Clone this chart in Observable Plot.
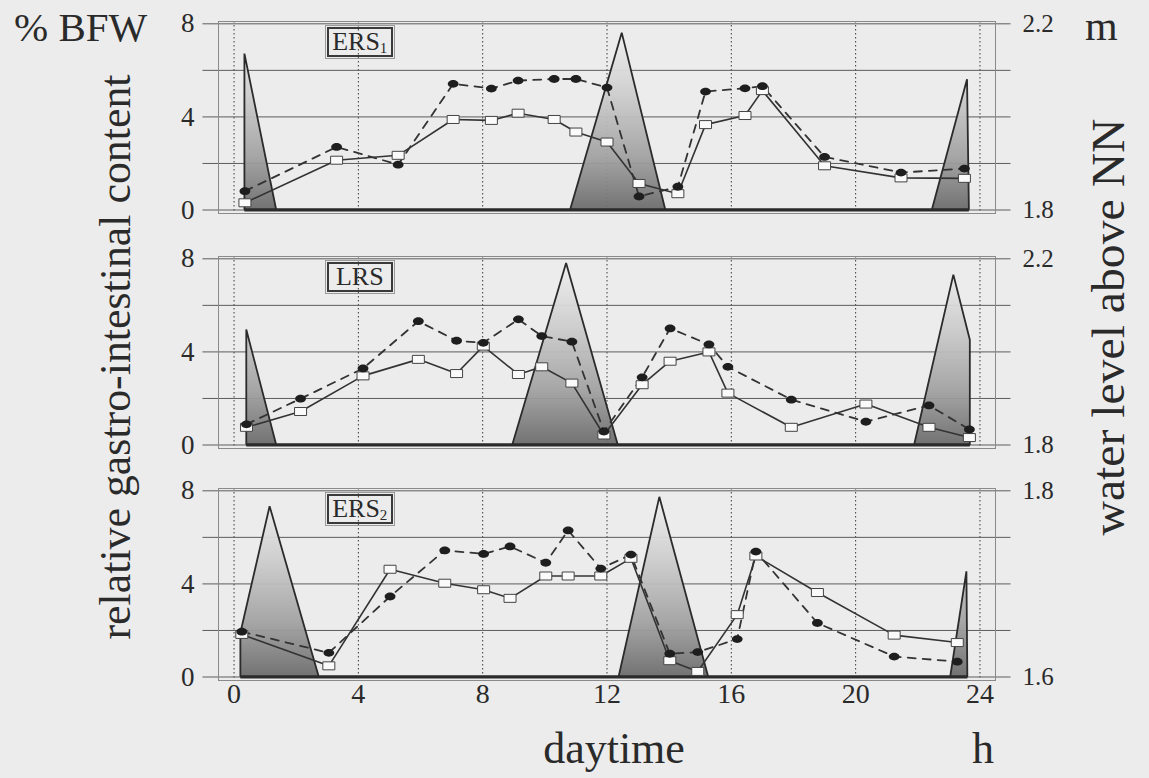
<!DOCTYPE html>
<html>
<head>
<meta charset="utf-8">
<script src="https://cdn.jsdelivr.net/npm/d3@7"></script>
<script src="https://cdn.jsdelivr.net/npm/@observablehq/plot@0.6"></script>
<style>
  html, body { margin: 0; padding: 0; background: #ececec; }
  #root { position: relative; width: 1149px; height: 778px; overflow: hidden;
          font-family: "Liberation Serif", "Times New Roman", serif; color: #2a2a2a; }
  #root svg, #root svg text { font-family: "Liberation Serif", "Times New Roman", serif !important; }
  .panel { position: absolute; left: 0; }
  .tag { position: absolute; box-sizing: border-box; border: 2px solid #3a3a3a;
         outline: 1px solid #9a9a9a; outline-offset: 1px;
         font-size: 26px; line-height: 26px; text-align: center; color: #2a2a2a; }
  .tag sub { font-size: 15px; vertical-align: -3px; }
  #labels { position: absolute; left: 0; top: 0; pointer-events: none; }
</style>
</head>
<body>
<svg width="0" height="0" style="position:absolute">
  <defs>
    <linearGradient id="tideFill" x1="0" y1="0" x2="0" y2="1">
      <stop offset="0" stop-color="#f0f0f0"/>
      <stop offset="0.35" stop-color="#cdcdcd"/>
      <stop offset="0.7" stop-color="#a2a2a2"/>
      <stop offset="1" stop-color="#6c6c6c"/>
    </linearGradient>
  </defs>
</svg>
<div id="root"></div>
<script>
// ---------- axis ticks ----------
const xTicks = [0, 4, 8, 12, 16, 20, 24];
const leftTicks = [0, 4, 8];
const gridValues = [0, 2, 4, 6, 8];

// ---------- panel names ----------
const panelNames = ["ERS", "LRS", "ERS"];
const panelSubs = ["1", "", "2"];

// ---------- panel 1: ERS1 (relative gastro-intestinal content, % BFW) ----------
const hours1   = [0.35, 3.3, 5.28, 7.05, 8.28, 9.14, 10.3, 11.0, 12.0, 13.03, 14.28, 15.17, 16.44, 17.0, 19.0, 21.46, 23.5];
const squares1 = [0.31, 2.14, 2.35, 3.89, 3.85, 4.16, 3.89, 3.35, 2.92, 1.14, 0.70, 3.67, 4.06, 5.13, 1.90, 1.38, 1.36];
const dots1    = [0.81, 2.71, 1.95, 5.42, 5.22, 5.56, 5.63, 5.63, 5.26, 0.58, 1.00, 5.09, 5.23, 5.32, 2.28, 1.61, 1.78];
// water level (m above NN)
const tideHours1 = [0.35, 0.35, 1.37, 10.83, 12.49, 13.89, 22.47, 23.6, 23.66];
const tideLevel1 = [1.80, 2.135, 1.80, 1.80, 2.18, 1.80, 1.80, 2.08, 1.80];
const levelRange1 = [1.8, 2.2];

// ---------- panel 2: LRS ----------
const hours2   = [0.4, 2.14, 4.15, 5.93, 7.16, 8.02, 9.15, 9.9, 10.87, 11.9, 13.13, 14.03, 15.28, 15.89, 17.93, 20.33, 22.36, 23.66];
const squares2 = [0.76, 1.44, 2.97, 3.68, 3.07, 4.25, 3.03, 3.36, 2.66, 0.43, 2.59, 3.60, 4.00, 2.23, 0.76, 1.76, 0.76, 0.32];
const dots2    = [0.89, 1.99, 3.29, 5.32, 4.48, 4.39, 5.40, 4.68, 4.44, 0.58, 2.91, 5.01, 4.32, 3.36, 1.95, 1.00, 1.70, 0.67];
const tideHours2 = [0.41, 0.41, 1.37, 8.97, 10.7, 12.36, 21.9, 23.16, 23.69, 23.69];
const tideLevel2 = [1.80, 2.047, 1.80, 1.80, 2.19, 1.80, 1.80, 2.165, 2.025, 1.80];
const levelRange2 = [1.8, 2.2];

// ---------- panel 3: ERS2 ----------
const hours3   = [0.25, 3.05, 5.02, 6.78, 8.03, 8.88, 10.03, 10.75, 11.8, 12.77, 14.02, 14.92, 16.19, 16.79, 18.77, 21.24, 23.27];
const squares3 = [1.83, 0.48, 4.63, 4.03, 3.75, 3.38, 4.34, 4.34, 4.34, 5.10, 0.70, 0.24, 2.68, 5.20, 3.63, 1.80, 1.48];
const dots3    = [1.95, 1.04, 3.46, 5.44, 5.29, 5.61, 4.91, 6.30, 4.66, 5.26, 1.00, 1.07, 1.63, 5.39, 2.32, 0.88, 0.66];
const tideHours3 = [0.22, 0.22, 1.16, 2.74, 12.39, 13.7, 15.27, 23.06, 23.58, 23.61];
const tideLevel3 = [1.60, 1.647, 1.783, 1.60, 1.60, 1.793, 1.60, 1.60, 1.713, 1.60];
const levelRange3 = [1.6, 1.8];

// ---------- custom marker shapes ----------
const rectSymbol = {
  draw(ctx) {
    const w = 6, h = 4;
    ctx.moveTo(-w, -h); ctx.lineTo(w, -h); ctx.lineTo(w, h); ctx.lineTo(-w, h); ctx.closePath();
  }
};
const ellipseSymbol = {
  draw(ctx) {
    const rx = 5.4, ry = 3.9, k = 0.5523;
    ctx.moveTo(rx, 0);
    ctx.bezierCurveTo(rx, ry * k, rx * k, ry, 0, ry);
    ctx.bezierCurveTo(-rx * k, ry, -rx, ry * k, -rx, 0);
    ctx.bezierCurveTo(-rx, -ry * k, -rx * k, -ry, 0, -ry);
    ctx.bezierCurveTo(rx * k, -ry, rx, -ry * k, rx, 0);
    ctx.closePath();
  }
};

const root = document.getElementById("root");
const fmt = d3.format(".1f");

function makePanel(idx, hours, sq, dt, tHours, tLevel, range, top, showX) {
  const toLeft = m => (m - range[0]) / (range[1] - range[0]) * 8;
  const pts = hours.map((h, k) => ({h, a: sq[k], b: dt[k]}));
  const tide = tHours.map((h, k) => ({h, v: toLeft(tLevel[k])}));
  const mb = showX ? 50 : 10;
  const marks = [
    Plot.ruleX(xTicks, {stroke: "#3a3a3a", strokeWidth: 1, strokeDasharray: "1.5,2.5"}),
    Plot.ruleY(gridValues, {x1: -1, x2: 25, stroke: "#5c5c5c", strokeWidth: 1}),
    Plot.frame({stroke: "#8a8a8a", strokeWidth: 1}),
    Plot.areaY(tide, {x: "h", y: "v", fill: "url(#tideFill)", fillOpacity: 0.95,
                      stroke: "#2b2b2b", strokeWidth: 1.8, strokeLinejoin: "miter"}),
    Plot.ruleY([0], {x1: d3.min(tHours), x2: d3.max(tHours), stroke: "#2b2b2b", strokeWidth: 3}),
    Plot.line(pts, {x: "h", y: "a", stroke: "#333", strokeWidth: 1.6}),
    Plot.line(pts, {x: "h", y: "b", stroke: "#333", strokeWidth: 1.8, strokeDasharray: "8,7"}),
    Plot.dot(pts, {x: "h", y: "a", symbol: rectSymbol, r: 4, fill: "#fafafa", stroke: "#444", strokeWidth: 1}),
    Plot.dot(pts, {x: "h", y: "b", symbol: ellipseSymbol, r: 4, fill: "#1e1e1e", stroke: "none"}),
    Plot.axisY(leftTicks, {anchor: "left", tickSize: 0, tickPadding: 24, fontSize: 27, label: null}),
    Plot.axisY([0, 8], {anchor: "right", tickSize: 0, tickPadding: 27, fontSize: 25, label: null,
                        tickFormat: v => fmt(range[0] + v / 8 * (range[1] - range[0]))})
  ];
  if (showX) {
    marks.push(Plot.axisX(xTicks, {anchor: "bottom", tickSize: 0, tickPadding: 3, fontSize: 28, label: null}));
  }
  const plot = Plot.plot({
    width: 1149,
    height: 10 + 192 + mb,
    marginLeft: 218, marginRight: 154, marginTop: 10, marginBottom: mb,
    x: {domain: [-0.5, 24.5], axis: null},
    y: {domain: [-0.15, 8.1], axis: null},
    style: {background: "transparent", fontFamily: '"Liberation Serif", "Times New Roman", serif',
            color: "#2a2a2a", overflow: "visible"},
    marks
  });
  const wrap = document.createElement("div");
  wrap.className = "panel";
  wrap.style.top = top + "px";
  wrap.appendChild(plot);
  root.appendChild(wrap);

  // panel tag (ERS1 / LRS / ERS2)
  const tag = document.createElement("div");
  tag.className = "tag";
  const xs = plot.scale("x"), ys = plot.scale("y");
  tag.style.left = (xs.apply(3.0)) + "px";
  tag.style.top = (top + ys.apply(8) + 4) + "px";
  tag.style.width = "66px";
  tag.style.height = "30px";
  tag.innerHTML = panelNames[idx] + (panelSubs[idx] ? "<sub>" + panelSubs[idx] + "</sub>" : "");
  root.appendChild(tag);
}

makePanel(0, hours1, squares1, dots1, tideHours1, tideLevel1, levelRange1, 10.7, false);
makePanel(1, hours2, squares2, dots2, tideHours2, tideLevel2, levelRange2, 245.7, false);
makePanel(2, hours3, squares3, dots3, tideHours3, tideLevel3, levelRange3, 477.5, true);

// ---------- outer text labels ----------
const svg = d3.select(root).append("svg")
  .attr("id", "labels").attr("width", 1149).attr("height", 778)
  .attr("fill", "#2a2a2a");
svg.append("text").attr("x", 14).attr("y", 41).attr("font-size", 41).text("% BFW");
svg.append("text").attr("transform", "translate(130,357) rotate(-90)")
  .attr("text-anchor", "middle").attr("font-size", 44)
  .attr("textLength", 565).attr("lengthAdjust", "spacingAndGlyphs")
  .text("relative gastro-intestinal content");
svg.append("text").attr("x", 1085).attr("y", 40).attr("font-size", 42).text("m");
svg.append("text").attr("transform", "translate(1124,327) rotate(-90)")
  .attr("text-anchor", "middle").attr("font-size", 46)
  .attr("textLength", 417).attr("lengthAdjust", "spacingAndGlyphs")
  .text("water level above NN");
svg.append("text").attr("x", 614).attr("y", 763).attr("text-anchor", "middle").attr("font-size", 44).text("daytime");
svg.append("text").attr("x", 983).attr("y", 763).attr("text-anchor", "middle").attr("font-size", 44).text("h");
</script>
</body>
</html>
